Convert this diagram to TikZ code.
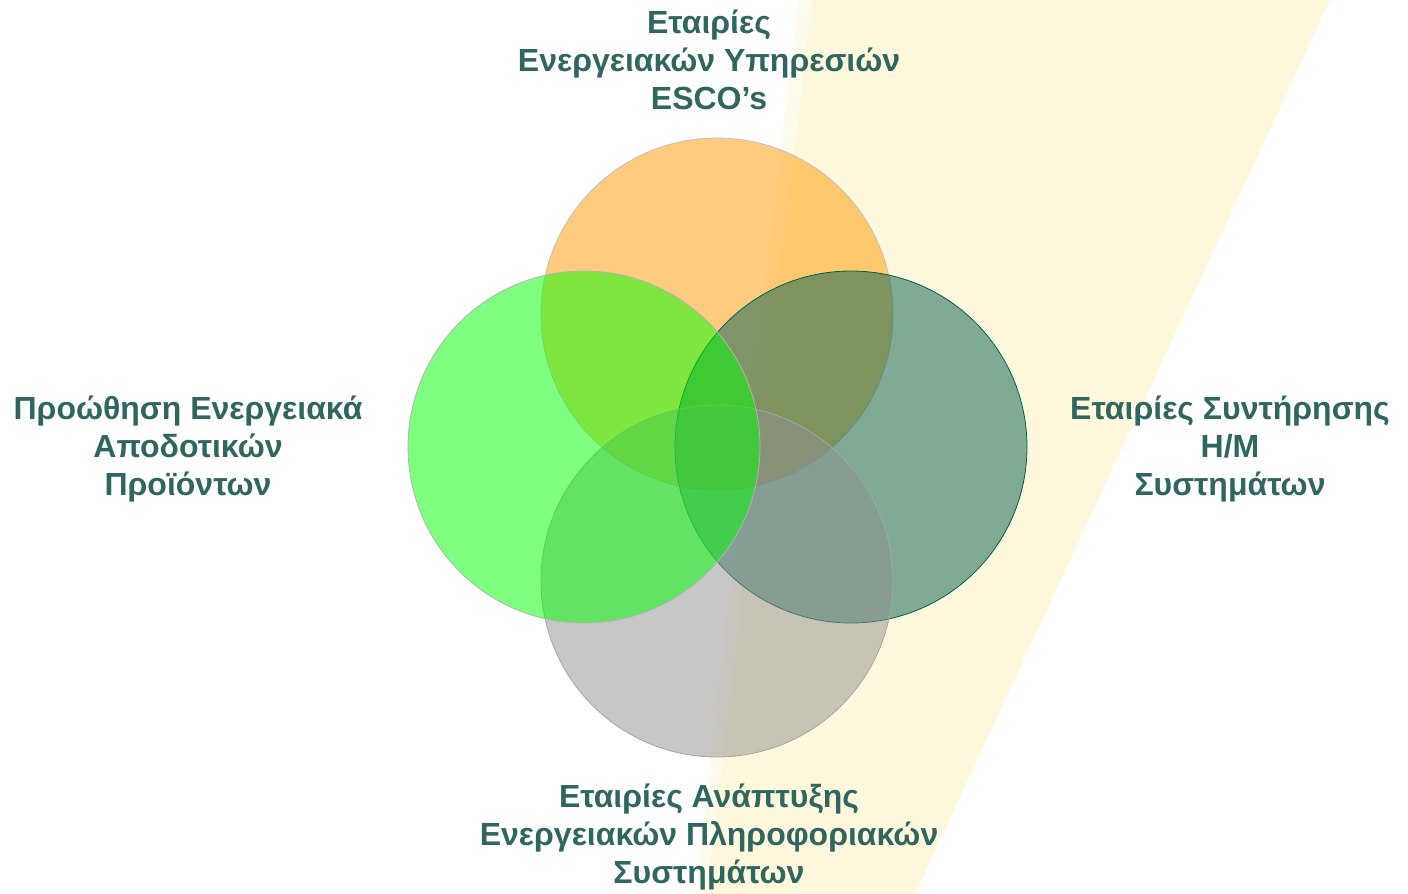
\documentclass[tikz,border=0pt]{standalone}
\usepackage{fontspec}
\setmainfont{Liberation Sans}
\usetikzlibrary{positioning}
\definecolor{txtc}{HTML}{2F6660}
\definecolor{bandc}{HTML}{FFF8DC}
\definecolor{orc}{HTML}{FF9900}
\definecolor{grc}{HTML}{00FF00}
\definecolor{tlc}{HTML}{006050}
\definecolor{gyc}{HTML}{909090}
\tikzset{
    circ/.style={ % one set of the diagram
        circle,
        minimum size=352pt,
        inner sep=0pt,
        outer sep=0pt,
        fill opacity=0.5,
        line width=0.8pt
        },
    lbl/.style={ % set caption
        text=txtc,
        font=\fontsize{32}{38}\selectfont\bfseries,
        align=center,
        inner sep=0pt
        }
}
\begin{document}
\begin{tikzpicture}[x=1pt,y=-1pt]
\fill[white] (0,0) rectangle (1408,894);
\useasboundingbox (0,0) rectangle (1408,894);

%%%%% light band behind
\fill[bandc!50] (798,0) -- (812,0) -- (707,894) -- (695,894) -- cycle;
\fill[bandc] (812,0) -- (1330,0) -- (915,894) -- (707,894) -- cycle;

%%%%% set esco (top)
\node[circ, fill=orc, draw=gray!50] (esco) at (717,314) {};

%%%%% set maint (right)
\node[circ, fill=tlc, draw=tlc] (maint) at (851,447) {};

%%%%% set infosys (bottom)
\node[circ, fill=gyc, draw=gray!70] (infosys) at (717,581) {};

%%%%% set promo (left)
\node[circ, fill=grc, draw=gray!60] (promo) at (584,447) {};

%%%%% captions
\node[lbl] (lesco) at (709,60) {Εταιρίες\\Ενεργειακών Υπηρεσιών\\ESCO’s};
\node[lbl] (lpromo) at (188,449) {Προώθηση Ενεργειακά\\Αποδοτικών\\Προϊόντων};
\node[lbl] (lmaint) at (1230,449) {Εταιρίες Συντήρησης\\Η/Μ\\Συστημάτων};
\node[lbl] (linfosys) at (709,837) {Εταιρίες Ανάπτυξης\\Ενεργειακών Πληροφοριακών\\Συστημάτων};

\end{tikzpicture}
\end{document}
